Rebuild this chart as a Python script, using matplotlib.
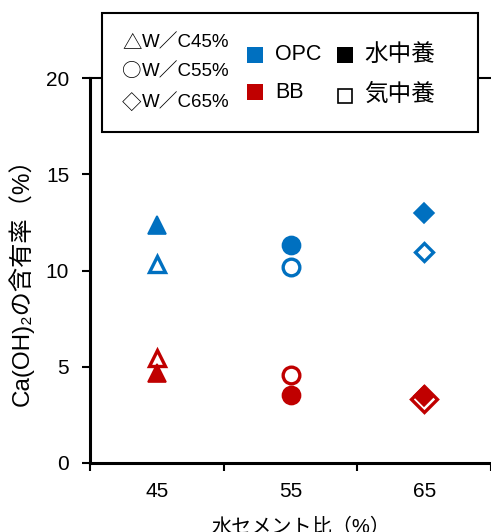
import matplotlib.pyplot as plt
from matplotlib.patches import Rectangle

plt.rcParams['font.family'] = ['Liberation Sans', 'Noto Sans CJK JP', 'DejaVu Sans']

# data
wc_labels = ['45', '55', '65']
shapes = ['^', 'o', 'D']
opc_water = [12.34, 11.32, 13.0]
opc_air = [10.34, 10.2, 10.97]
bb_water = [4.67, 3.53, 3.5]
bb_air = [5.45, 4.57, 3.3]

blue = '#0070C0'
red = '#C00000'

W, H = 491, 532
fig = plt.figure(figsize=(W / 100, H / 100), dpi=100)
ax = fig.add_axes([90 / W, 69 / H, 401 / W, 385 / H])


def fx(px):
    return px / W


def fy(py):
    return 1 - py / H


# marker sizes (filled, open) per shape
sizes = {'^': (13, 12), 'o': (13, 12), 'D': (10.6, 9.5)}

for i, m in enumerate(shapes):
    s_fill, s_open = sizes[m]
    ax.plot(i, opc_air[i], marker=m, ms=s_open, mfc='white', mec=blue, mew=2.4, ls='none')
    ax.plot(i, opc_water[i], marker=m, ms=s_fill, mfc=blue, mec=blue, mew=1.2, ls='none')
    if m == 'D':
        s_open = 13.5
    ax.plot(i, bb_air[i], marker=m, ms=s_open, mfc='white', mec=red, mew=2.4, ls='none')
    ax.plot(i, bb_water[i], marker=m, ms=s_fill, mfc=red, mec=red, mew=1.2, ls='none')

ax.set_xlim(-0.5, 2.5)
ax.set_ylim(0, 20)
ax.set_xticks([-0.5, 0.5, 1.5, 2.5])
ax.set_xticklabels([])
ax.set_xticks([0, 1, 2], minor=True)
ax.set_xticklabels(wc_labels, minor=True)
ax.set_yticks([0, 5, 10, 15, 20])

ax.tick_params(axis='x', which='major', direction='out', length=6, width=1.5)
ax.tick_params(axis='x', which='minor', length=0, pad=14, labelsize=15)
ax.tick_params(axis='y', direction='out', length=6, width=1.5, pad=9, labelsize=15)

ax.spines['right'].set_visible(False)
ax.spines['left'].set_linewidth(2.2)
ax.spines['bottom'].set_linewidth(2.2)
ax.spines['top'].set_linewidth(1.5)

ax.set_ylabel('Ca(OH)₂の含有率（%）', fontsize=17.5)
ax.yaxis.set_label_coords(-0.14, 0.485)
ax.set_xlabel('水セメント比（%）', fontsize=14.5)
ax.xaxis.set_label_coords(0.525, -0.142)

# legend box
fig.add_artist(Rectangle((fx(102), fy(132)), (478 - 102) / W, (132 - 13) / H,
                         transform=fig.transFigure, fc='white', ec='black', lw=1.5))
for sym, txt, py in [('△', 'W／C45%', 43), ('○', 'W／C55%', 72), ('◇', 'W／C65%', 103)]:
    fig.text(fx(122), fy(py), sym, ha='left', va='center', fontsize=14,
             family='Noto Sans CJK JP')
    fig.text(fx(142), fy(py), txt, ha='left', va='center', fontsize=13.5)

fig.add_artist(Rectangle((fx(247), fy(63)), 16 / W, 16 / H, transform=fig.transFigure,
                         fc=blue, ec='none'))
fig.add_artist(Rectangle((fx(247), fy(100)), 16 / W, 16 / H, transform=fig.transFigure,
                         fc=red, ec='none'))
fig.text(fx(275), fy(55), 'OPC', ha='left', va='center', fontsize=15.5)
fig.text(fx(275), fy(93), 'BB', ha='left', va='center', fontsize=15.5)

fig.add_artist(Rectangle((fx(337), fy(63)), 16 / W, 16 / H, transform=fig.transFigure,
                         fc='black', ec='none'))
fig.add_artist(Rectangle((fx(338), fy(103)), 14 / W, 14 / H, transform=fig.transFigure,
                         fc='white', ec='black', lw=1.2))
fig.text(fx(364), fy(55), '水中養', ha='left', va='center', fontsize=17)
fig.text(fx(364), fy(95), '気中養', ha='left', va='center', fontsize=17)

fig.savefig('out.png', dpi=100)
